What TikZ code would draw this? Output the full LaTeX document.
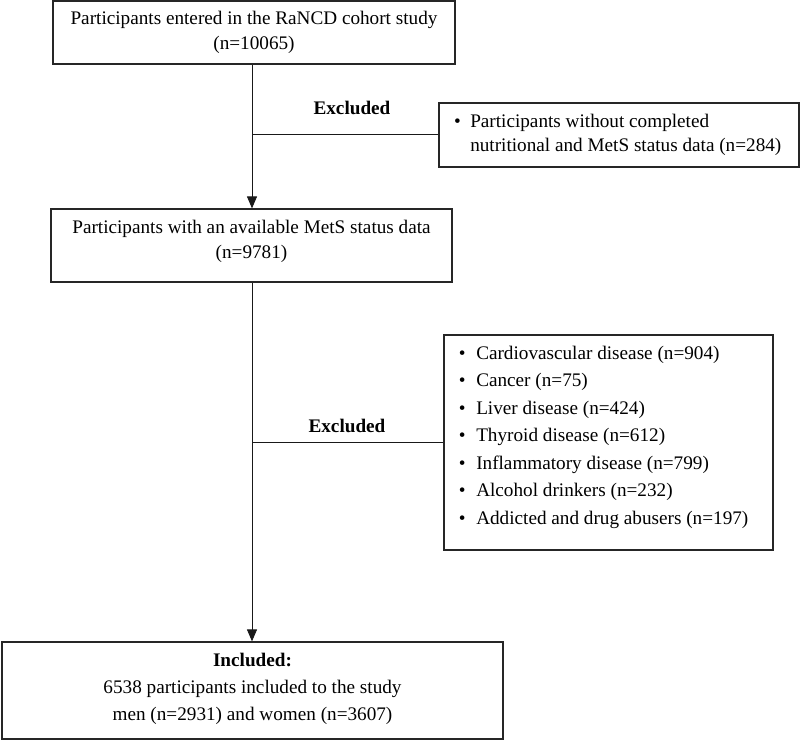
\documentclass[tikz,border=0pt]{standalone}
\usepackage{fontspec}
\setmainfont{Liberation Serif}
\usetikzlibrary{arrows.meta,fit}
\begin{document}
\begin{tikzpicture}[x=0.75pt,y=-0.75pt,
  box/.style={draw=black!85,line width=0.9pt,inner sep=0pt},
  txt/.style={font=\fontsize{14.4}{18.5}\selectfont,align=center,inner sep=0pt},
  lst/.style={font=\fontsize{14.4}{20.6}\selectfont,align=left,inner sep=0pt,anchor=west},
  lbl/.style={font=\fontsize{14.4}{17}\selectfont\bfseries,inner sep=0pt},
  conn/.style={line width=0.75pt,draw=black!90},
  arr/.style={conn,-{Triangle[width=7.5pt,length=9pt]}}]
\useasboundingbox (0,0) rectangle (800,741);
% boxes
\node[box,fit={(53,1)(455,64)}] (b1) {};
\node[txt] (t1) at (b1.center) {Participants entered in the RaNCD cohort study\\(n=10065)};
\node[box,fit={(51,209)(452,282)}] (b2) {};
\node[txt] (t2) at ([yshift=3pt]b2.center) {Participants with an available MetS status data\\(n=9781)};
\node[box,fit={(439,103)(799,167)}] (e1) {};
\node[lst,font=\fontsize{14.4}{18}\selectfont] (l1) at (470,135) {\llap{\textbullet\hspace{7pt}}Participants without completed\\nutritional and MetS status data (n=284)};
\node[box,fit={(444,335)(773,550)}] (e2) {};
\node[lst] (l2) at ([yshift=3.5pt]476,442) {\llap{\textbullet\hspace{8pt}}Cardiovascular disease (n=904)\\
\llap{\textbullet\hspace{8pt}}Cancer (n=75)\\
\llap{\textbullet\hspace{8pt}}Liver disease (n=424)\\
\llap{\textbullet\hspace{8pt}}Thyroid disease (n=612)\\
\llap{\textbullet\hspace{8pt}}Inflammatory disease (n=799)\\
\llap{\textbullet\hspace{8pt}}Alcohol drinkers (n=232)\\
\llap{\textbullet\hspace{8pt}}Addicted and drug abusers (n=197)};
\node[box,fit={(2,642)(503,739)}] (b3) {};
\node[txt,font=\fontsize{14.4}{20.3}\selectfont] (t3) at ([yshift=1.5pt]b3.center) {\textbf{Included:}\\6538 participants included to the study\\men (n=2931) and women (n=3607)};
% labels
\node[lbl] (x1) at (352,108) {Excluded};
\node[lbl] (x2) at (347,426) {Excluded};
% connectors
\coordinate (vx) at (252,0);
\draw[arr] (b1.south -| vx) -- (b2.north -| vx);
\draw[arr] (b2.south -| vx) -- (b3.north -| vx);
\draw[conn] (vx |- e1.west) -- (e1.west);
\draw[conn] (vx |- e2.west) -- (e2.west);
\end{tikzpicture}
\end{document}
